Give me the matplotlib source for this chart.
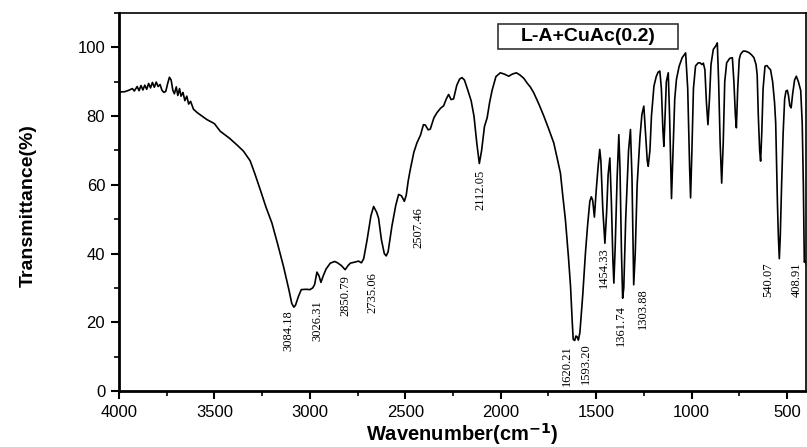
import matplotlib.pyplot as plt
from matplotlib.patches import Rectangle
from matplotlib.ticker import MultipleLocator

plt.rcParams['font.family'] = ['Liberation Sans', 'DejaVu Sans']

# FTIR spectrum, wavenumber (cm-1) vs transmittance (%)
wavenumber = [
    4000, 3970, 3950, 3930, 3920, 3905, 3895, 3885, 3875, 3865, 3855, 3845,
    3835, 3825, 3815, 3805, 3795, 3785, 3775, 3765, 3755, 3745, 3736, 3727,
    3718, 3710, 3700, 3692, 3683, 3675, 3665, 3655, 3645, 3635, 3625, 3610,
    3590, 3570, 3540, 3500, 3470, 3420, 3380, 3348, 3313, 3290, 3260, 3230,
    3199, 3170, 3138, 3110, 3095, 3084, 3075, 3060, 3045, 3020, 3000, 2985,
    2975, 2963, 2952, 2942, 2930, 2915, 2893, 2870, 2855, 2835, 2815, 2800,
    2788, 2765, 2745, 2730, 2718, 2700, 2680, 2666, 2650, 2640, 2625, 2610,
    2600, 2590, 2570, 2550, 2535, 2520, 2505, 2495, 2485, 2474, 2455, 2439,
    2420, 2405, 2395, 2380, 2369, 2350, 2334, 2315, 2299, 2285, 2273, 2260,
    2247, 2230, 2215, 2203, 2190, 2175, 2155, 2140, 2125, 2112, 2100, 2085,
    2071, 2058, 2045, 2025, 2002, 1980, 1958, 1940, 1918, 1900, 1879, 1860,
    1845, 1827, 1800, 1774, 1750, 1722, 1705, 1687, 1675, 1661, 1645, 1634,
    1625, 1620, 1612, 1606, 1600, 1593, 1585, 1570, 1556, 1545, 1533, 1525,
    1518, 1509, 1500, 1490, 1481, 1475, 1465, 1454, 1445, 1437, 1428, 1420,
    1412, 1407, 1400, 1390, 1381, 1375, 1367, 1361, 1355, 1345, 1330, 1320,
    1312, 1303, 1295, 1285, 1270, 1260, 1250, 1240, 1232, 1227, 1218, 1210,
    1197, 1185, 1175, 1166, 1158, 1150, 1145, 1140, 1132, 1122, 1115, 1105,
    1097, 1088, 1079, 1065, 1049, 1040, 1031, 1020, 1010, 1005, 998, 990,
    979, 965, 956, 945, 938, 930, 922, 914, 906, 898, 886, 872,
    865, 858, 850, 842, 834, 826, 816, 800, 786, 778, 770, 765,
    758, 750, 743, 730, 717, 700, 685, 673, 662, 656, 650, 643,
    638, 632, 625, 615, 605, 595, 586, 575, 565, 559, 550, 545,
    540, 535, 528, 520, 512, 505, 498, 492, 485, 478, 470, 460,
    451, 440, 428, 420, 414, 409, 404, 400,
]
transmittance = [
    87.0, 87.1, 87.5, 88.0, 87.3, 88.6, 87.4, 88.9, 87.6, 89.0, 87.8, 89.5,
    88.2, 89.8, 88.4, 89.9, 88.6, 89.2, 87.5, 86.9, 87.2, 89.5, 91.3, 90.5,
    87.5, 86.5, 88.5, 86.0, 88.0, 85.8, 86.9, 84.5, 85.8, 83.5, 84.3, 82.0,
    81.0, 80.2, 79.0, 77.8, 75.6, 73.5, 71.5, 69.8, 67.0, 63.5, 58.6, 53.5,
    48.9, 43.0, 36.2, 29.5, 25.5, 24.4, 25.0, 27.5, 29.5, 29.6, 29.5, 30.0,
    31.0, 34.6, 33.5, 31.6, 33.5, 35.5, 37.2, 37.7, 37.3, 36.5, 35.3, 36.5,
    37.2, 37.5, 37.8, 37.3, 38.5, 44.0, 51.0, 53.7, 52.0, 50.3, 44.0, 40.0,
    39.3, 40.5, 48.0, 54.0, 57.2, 56.8, 55.2, 57.0, 61.0, 64.4, 69.5, 72.2,
    74.5, 77.5, 77.4, 76.0, 76.2, 79.5, 81.0, 82.3, 83.0, 85.0, 86.3, 84.8,
    85.0, 89.0, 90.8, 91.2, 90.5, 88.0, 84.5, 80.0, 72.0, 66.2, 70.0, 77.0,
    79.5, 84.0, 87.5, 91.5, 92.6, 92.2, 91.6, 92.2, 92.6, 92.0, 91.0, 89.5,
    88.5, 86.8, 83.5, 80.0, 76.5, 72.2, 68.0, 63.4, 57.0, 49.9, 39.0, 30.4,
    20.0, 15.0, 14.7, 16.0, 15.8, 14.8, 17.0, 28.0, 40.1, 48.0, 55.2, 56.5,
    55.5, 50.6, 58.0, 65.0, 70.3, 67.0, 53.0, 43.0, 52.0, 63.0, 67.8, 55.0,
    38.0, 31.4, 42.0, 62.0, 74.6, 65.0, 40.0, 27.0, 30.0, 50.0, 70.0, 76.1,
    62.0, 30.9, 40.0, 60.0, 74.0, 80.5, 82.9, 74.0, 67.0, 65.4, 70.0, 80.0,
    88.7, 91.5, 92.8, 93.1, 88.0, 76.0, 71.2, 78.0, 90.0, 92.6, 80.0, 56.0,
    70.0, 85.0, 90.7, 94.5, 97.0, 97.7, 98.4, 88.0, 65.0, 56.2, 70.0, 88.0,
    94.6, 95.5, 95.5, 95.0, 95.4, 93.5, 84.0, 77.5, 85.0, 95.0, 99.4, 100.5,
    101.3, 90.0, 72.0, 60.5, 72.0, 90.0, 95.5, 96.8, 97.0, 90.0, 80.0, 76.6,
    88.0, 96.5, 98.0, 98.9, 98.9, 98.5, 97.8, 97.0, 95.0, 92.0, 80.0, 70.0,
    66.9, 75.0, 88.0, 94.5, 94.7, 94.0, 93.5, 90.0, 84.0, 78.0, 55.0, 45.0,
    38.5, 45.0, 60.0, 75.0, 85.0, 87.3, 87.5, 86.0, 83.0, 82.4, 86.5, 90.5,
    91.6, 90.0, 87.5, 78.0, 60.0, 37.5, 38.0, 37.0,
]

# band labels and where each one sits (wavenumber, top of text)
peak_labels = ['3084.18', '3026.31', '2850.79', '2735.06', '2507.46', '2112.05',
               '1620.21', '1593.20', '1454.33', '1361.74', '1303.88',
               '540.07', '408.91']
label_x = [3110, 2961, 2812, 2673, 2430, 2105, 1653, 1553, 1459, 1372, 1255, 598, 449]
label_y = [23.6, 26.5, 33.8, 34.7, 53.6, 64.4, 13.4, 14.0, 41.7, 25.0, 30.0, 37.3, 37.3]

sample_name = 'L-A+CuAc(0.2)'

fig = plt.figure(figsize=(8.07, 4.47), dpi=100)
ax = fig.add_axes([0.1475, 0.1253, 0.8513, 0.8456])

ax.plot(wavenumber, transmittance, color='black', lw=1.2)

for txt, x, y in zip(peak_labels, label_x, label_y):
    ax.text(x, y, txt, rotation=90, ha='center', va='top',
            family=['Liberation Serif', 'DejaVu Serif'], fontsize=9)

ax.set_xlim(4000, 400)
ax.set_ylim(0, 110)
ax.xaxis.set_major_locator(MultipleLocator(500))
ax.xaxis.set_minor_locator(MultipleLocator(250))
ax.yaxis.set_major_locator(MultipleLocator(20))
ax.yaxis.set_minor_locator(MultipleLocator(10))
ax.tick_params(which='major', direction='out', length=6, width=1.5, labelsize=12, pad=4)
ax.tick_params(which='minor', direction='out', length=3.5, width=1.2)

for side in ['left', 'bottom']:
    ax.spines[side].set_linewidth(2)
for side in ['top', 'right']:
    ax.spines[side].set_linewidth(1.2)

ax.set_xlabel('Wavenumber(cm$^{\\mathbf{-1}}$)', fontsize=14.5, fontweight='bold')
ax.xaxis.set_label_coords(0.5, -0.114)
ax.xaxis.label.set_va('center')
ax.set_ylabel('Transmittance(%)', fontsize=14, fontweight='bold')
ax.yaxis.set_label_coords(-0.132, 0.49)
ax.yaxis.label.set_va('center')

# sample name in a framed box
ax.add_patch(Rectangle((0.552, 0.905), 0.262, 0.066, transform=ax.transAxes,
                       fill=False, edgecolor='#333333', lw=1.2))
ax.text(0.683, 0.938, sample_name, transform=ax.transAxes, ha='center', va='center',
        fontsize=14, fontweight='bold')

fig.savefig('out.png', dpi=100)
